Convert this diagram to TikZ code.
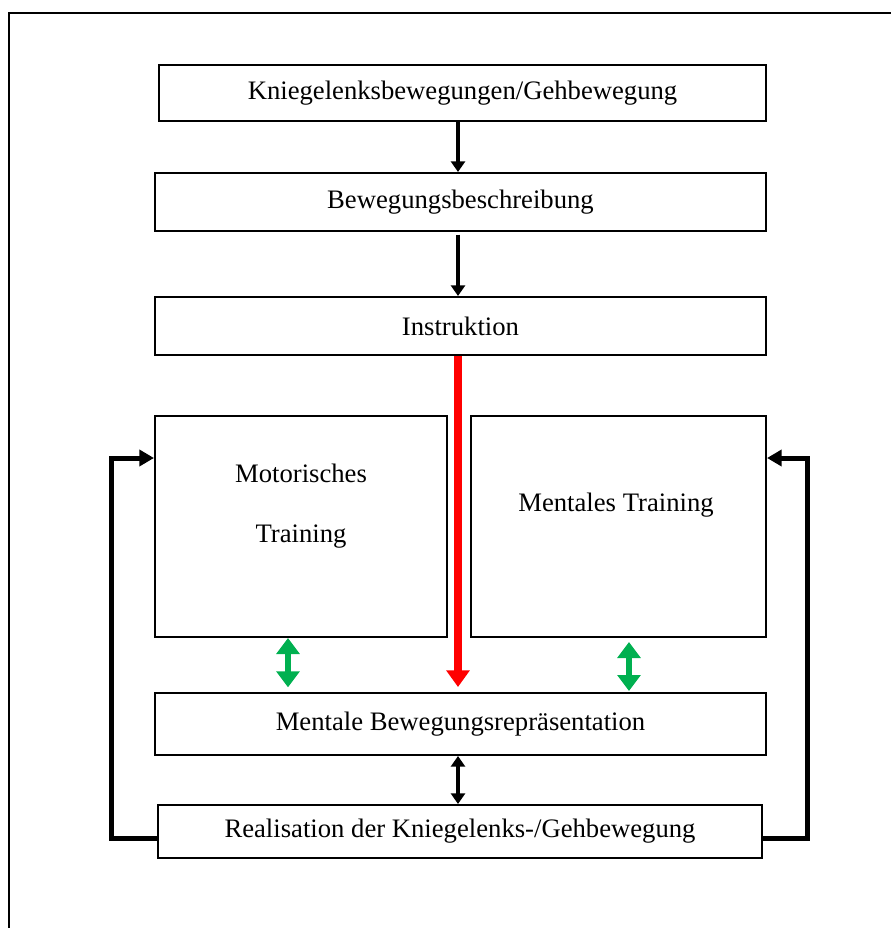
\documentclass[tikz,border=0pt]{standalone}
\usepackage{fontspec}
\setmainfont{Liberation Serif}
\usetikzlibrary{arrows.meta,calc}
\definecolor{wgreen}{RGB}{0,176,80}
\definecolor{wred}{RGB}{255,0,0}
\tikzset{
  box/.style={draw, line width=1.5pt, inner sep=0pt, font=\fontsize{20}{24}\selectfont},
  lbl/.style={inner sep=0pt, align=center, font=\fontsize{20}{45}\selectfont},
  blackarr/.style={line width=3pt, -{Triangle[width=10.5pt,length=8pt]}},
  blackdbl/.style={line width=3pt, {Triangle[width=10.5pt,length=8pt]}-{Triangle[width=10.5pt,length=8pt]}},
  redarr/.style={draw=wred, line width=6pt, -{Triangle[width=17pt,length=12.5pt]}, color=wred},
  greendbl/.style={color=wgreen, line width=5pt, {Triangle[width=17pt,length=12pt]}-{Triangle[width=17pt,length=12pt]}},
  looparr/.style={line width=3.75pt, -{Triangle[width=12pt,length=11pt]}}
}
\begin{document}
\begin{tikzpicture}[x=0.75pt,y=-0.75pt]
\useasboundingbox (0,0) rectangle (890,928);
% frame
\draw[line width=1.5pt] (9,940) -- (9,13) -- (900,13);
% boxes
\node[box, minimum width=455.25pt, minimum height=42pt] (b1) at (462.5,93) {Kniegelenksbewegungen/Gehbewegung};
\node[box, minimum width=458.25pt, minimum height=43.5pt] (b2) at (460.5,202) {Bewegungsbeschreibung};
\node[box, minimum width=458.25pt, minimum height=43.5pt] (b3) at (460.5,326) {Instruktion};
\node[box, minimum width=219pt, minimum height=165.75pt] (b4) at (301,526.5) {};
\node[box, minimum width=221.25pt, minimum height=165.75pt] (b5) at (618.5,526.5) {};
\node[lbl] (t4) at (301,506) {Motorisches\\Training};
\node[lbl] (t5) at (616,505) {Mentales Training};
\node[box, minimum width=458.25pt, minimum height=46.5pt] (b6) at (460.5,724) {Mentale Bewegungsrepräsentation};
\node[box, minimum width=453pt, minimum height=39.75pt] (b7) at (460,831.5) {Realisation der Kniegelenks-/Gehbewegung};
% helper coordinates
\coordinate (cx) at (458,0);
\coordinate (gl) at (288,0);
\coordinate (gr) at (629,0);
\coordinate (ly) at (0,838);
\coordinate (lp) at (111,458);
\coordinate (rp) at (807,458);
% arrows
\draw[blackarr] (b1.south -| cx) -- (b2.north -| cx);
\draw[blackarr, shorten <=2pt] (b2.south -| cx) -- (b3.north -| cx);
\draw[redarr, shorten >=3.75pt] (b3.south -| cx) -- (b6.north -| cx);
\draw[greendbl, shorten >=3.5pt] (b4.south -| gl) -- (b6.north -| gl);
\draw[greendbl, shorten <=3pt, shorten >=0.75pt] (b5.south -| gr) -- (b6.north -| gr);
\draw[blackdbl] (b6.south -| cx) -- (b7.north -| cx);
\draw[looparr] (b7.west |- ly) -| (lp) -- (lp -| b4.west);
\draw[looparr] (b7.east |- ly) -| (rp) -- (rp -| b5.east);
\end{tikzpicture}
\end{document}
